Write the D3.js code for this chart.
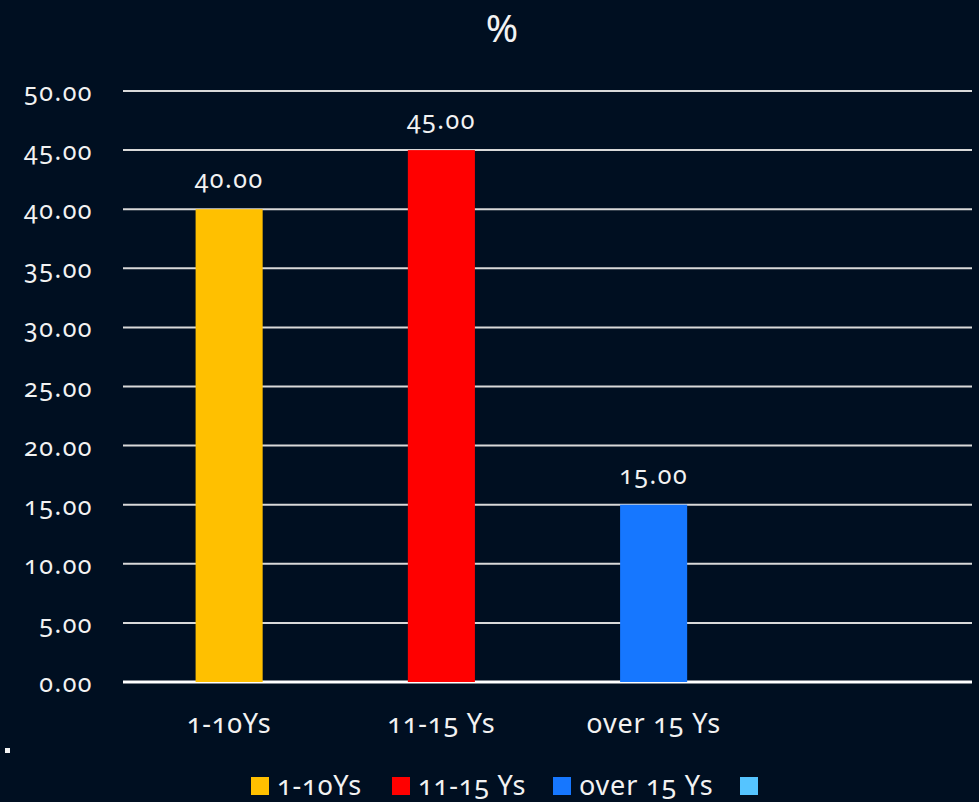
<!DOCTYPE html>
<html>
<head>
    <style>
        body {
            margin: 0;
            background-color: #000f21;
            font-family: "Noto Sans", Lato, sans-serif;
        }
        svg text {
            fill: #f2f2f2;
            font-variant-numeric: oldstyle-nums;
        }
        .grid line {
            stroke: #d9d9d9;
            stroke-width: 2px;
        }
    </style>
</head>
<body>
    <div id="chart"></div>
    <script src="https://d3js.org/d3.v7.min.js"></script>
    <script>
        // data
        var categories = ["1-10Ys", "11-15 Ys", "over 15 Ys", ""];
        var values = [40, 45, 15, null];
        var colors = ["#ffc000", "#ff0000", "#1677ff", "#55c4ff"];
        var yTicks = [0, 5, 10, 15, 20, 25, 30, 35, 40, 45, 50];
        var title = "%";

        var W = 979, H = 802;
        var margin = {top: 91, right: 7, bottom: 120, left: 123};

        var svg = d3.select("#chart").append("svg")
            .attr("width", W)
            .attr("height", H);

        var x = d3.scaleBand()
            .domain(categories.map(function(d, i) { return i; }))
            .range([margin.left, W - margin.right])
            .padding(0);

        var y = d3.scaleLinear()
            .domain([0, 50])
            .range([H - margin.bottom, margin.top]);

        var barW = x.bandwidth() * 0.316;
        var fmt = d3.format(".2f");

        // title
        svg.append("text")
            .attr("x", 502)
            .attr("y", 42)
            .attr("text-anchor", "middle")
            .style("font-size", "39px")
            .text(title);

        // gridlines
        svg.append("g")
            .attr("class", "grid")
            .selectAll("line")
            .data(yTicks)
            .enter().append("line")
            .attr("x1", margin.left)
            .attr("x2", W - margin.right)
            .attr("y1", function(d) { return y(d); })
            .attr("y2", function(d) { return y(d); })
            .style("stroke-width", function(d) { return d === 0 ? 3 : 2; })
            .style("stroke", function(d) { return d === 0 ? "#ffffff" : null; });

        // y tick labels
        svg.append("g")
            .selectAll("text")
            .data(yTicks)
            .enter().append("text")
            .attr("x", 93)
            .attr("y", function(d) { return y(d) + 10; })
            .attr("text-anchor", "end")
            .style("font-size", "25px")
            .style("letter-spacing", "1.5px")
            .text(function(d) { return fmt(d); });

        // bars
        var data = categories.map(function(c, i) { return {i: i, name: c, v: values[i]}; })
            .filter(function(d) { return d.v != null; });

        svg.append("g")
            .selectAll("rect")
            .data(data)
            .enter().append("rect")
            .attr("x", function(d) { return x(d.i) + x.bandwidth() / 2 - barW / 2; })
            .attr("y", function(d) { return y(d.v); })
            .attr("width", barW)
            .attr("height", function(d) { return y(0) - y(d.v); })
            .attr("fill", function(d) { return colors[d.i]; });

        // value labels
        svg.append("g")
            .selectAll("text")
            .data(data)
            .enter().append("text")
            .attr("x", function(d) { return x(d.i) + x.bandwidth() / 2; })
            .attr("y", function(d) { return y(d.v) - 21; })
            .attr("text-anchor", "middle")
            .style("font-size", "25px")
            .style("letter-spacing", "1.5px")
            .text(function(d) { return fmt(d.v); });

        // category labels
        svg.append("g")
            .selectAll("text")
            .data(categories)
            .enter().append("text")
            .attr("x", function(d, i) { return x(i) + x.bandwidth() / 2; })
            .attr("y", 733)
            .attr("text-anchor", "middle")
            .style("font-size", "27px")
            .style("letter-spacing", "0.8px")
            .text(function(d) { return d; });

        // stray dot
        svg.append("rect")
            .attr("x", 5).attr("y", 748)
            .attr("width", 5).attr("height", 5)
            .attr("fill", "#f2f2f2");

        // legend
        var legendX = [251, 392, 553, 740];
        var leg = svg.append("g")
            .selectAll("g")
            .data(categories)
            .enter().append("g")
            .attr("transform", function(d, i) { return "translate(" + legendX[i] + ",777)"; });

        leg.append("rect")
            .attr("width", 18)
            .attr("height", 18)
            .attr("fill", function(d, i) { return colors[i]; });

        leg.append("text")
            .attr("x", 26)
            .attr("y", 18)
            .style("font-size", "27px")
            .style("letter-spacing", "0.8px")
            .text(function(d) { return d; });
    </script>
</body>
</html>
